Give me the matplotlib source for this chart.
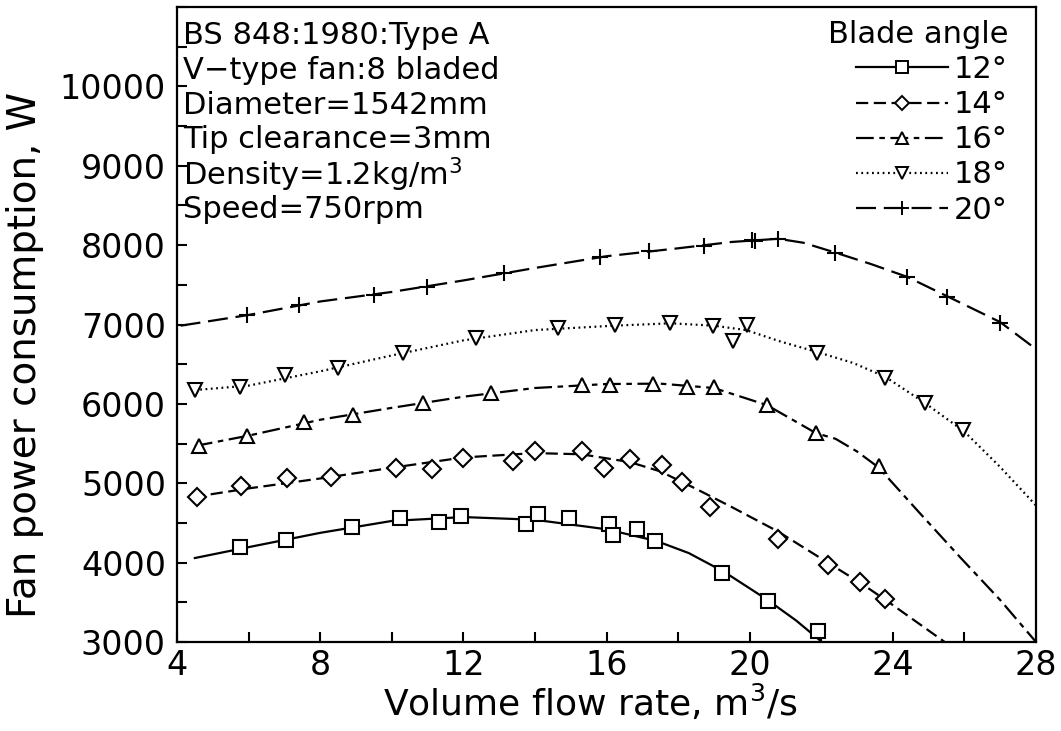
import matplotlib
matplotlib.use("Agg")
import matplotlib.pyplot as plt
from matplotlib.lines import Line2D
from matplotlib.ticker import MultipleLocator

plt.rcParams["font.family"] = ["DejaVu Sans"]
plt.rcParams["mathtext.fontset"] = "dejavusans"

# measured points, flow (m3/s) and fan power (W), one pair per blade angle
flow_12 = [5.76, 7.04, 8.89, 10.23, 11.32, 11.93, 13.75, 14.08, 14.95, 16.07,
           16.18, 16.85, 17.35, 19.22, 20.51, 21.91]
power_12 = [4196, 4285, 4448, 4562, 4511, 4587, 4486, 4612, 4562, 4486,
            4348, 4423, 4272, 3869, 3516, 3139]

flow_14 = [4.56, 5.79, 7.07, 8.30, 10.12, 11.12, 11.99, 13.39, 14.00, 15.31,
           15.93, 16.65, 17.55, 18.11, 18.89, 20.79, 22.18, 23.08, 23.78]
power_14 = [4826, 4965, 5065, 5078, 5191, 5179, 5317, 5280, 5406, 5406,
            5191, 5305, 5229, 5015, 4700, 4297, 3970, 3756, 3542]

flow_16 = [4.61, 5.96, 7.55, 8.92, 10.87, 12.77, 15.31, 16.09, 17.30, 18.25,
           19.00, 20.48, 21.85, 23.61]
power_16 = [5469, 5594, 5771, 5859, 6010, 6136, 6237, 6237, 6249, 6212,
            6212, 5985, 5632, 5217]

flow_18 = [4.50, 5.76, 7.02, 8.50, 10.31, 12.35, 14.64, 16.23, 17.77, 18.97,
           19.53, 19.92, 21.88, 23.78, 24.89, 25.96]
power_18 = [6174, 6212, 6363, 6451, 6640, 6829, 6955, 6992, 7018, 6980,
            6791, 6992, 6640, 6325, 6010, 5670]

flow_20 = [5.96, 7.41, 9.50, 10.98, 13.13, 15.82, 17.18, 18.72, 20.06, 20.15,
           20.79, 22.38, 24.39, 25.51, 26.99]
power_20 = [7118, 7244, 7370, 7471, 7647, 7849, 7924, 7987, 8063, 8050,
            8076, 7899, 7597, 7345, 7018]

# fitted characteristic curves
curve_flow_12 = [4.5, 6, 8, 10, 12, 14, 16, 17.4, 18.3, 19.3, 20.5, 21.3, 22.02]
curve_power_12 = [4058, 4195, 4375, 4525, 4574, 4540, 4420, 4272, 4120, 3880,
                  3530, 3270, 3000]

curve_flow_14 = [4.45, 6, 8, 10, 12, 14, 15.3, 16.65, 17.5, 18.5, 19.5, 20.8,
                 22.2, 23.1, 23.8, 25.45]
curve_power_14 = [4826, 4935, 5060, 5195, 5325, 5380, 5365, 5267, 5150, 4930,
                  4700, 4390, 3995, 3743, 3529, 3000]

curve_flow_16 = [4.5, 6, 8, 10, 12, 14, 16, 17.5, 19, 20.48, 21.85, 22.4, 23.0,
                 23.6, 24.75, 25.9, 27, 28]
curve_power_16 = [5469, 5600, 5800, 5950, 6090, 6200, 6250, 6255, 6200, 5985,
                  5632, 5560, 5400, 5200, 4625, 4058, 3529, 3000]

curve_flow_18 = [4.5, 6, 8, 10, 12, 14, 16.2, 17.8, 19, 19.9, 20.9, 21.9, 22.9,
                 23.8, 24.9, 26, 27, 28]
curve_power_18 = [6174, 6230, 6410, 6610, 6800, 6930, 6985, 7015, 6985, 6930,
                  6780, 6652, 6514, 6338, 6010, 5650, 5204, 4720]

curve_flow_20 = [4.1, 6, 8, 10, 12, 14, 16, 18, 19.5, 20.8, 21.5, 22.4, 23.4,
                 24.4, 25.5, 27, 28]
curve_power_20 = [6985, 7120, 7290, 7410, 7555, 7712, 7860, 7960, 8040, 8080,
                  8030, 7905, 7760, 7600, 7360, 7030, 6690]

angle_labels = ["12°", "14°", "16°", "18°", "20°"]

info_lines = [
    "BS 848:1980:Type A",
    "V−type fan:8 bladed",
    "Diameter=1542mm",
    "Tip clearance=3mm",
    "Density=1.2kg/m$^3$",
    "Speed=750rpm",
]

series = [
    (flow_12, power_12, curve_flow_12, curve_power_12, "s", 10.5, "-"),
    (flow_14, power_14, curve_flow_14, curve_power_14, "D", 9, (0, (5.5, 2.5))),
    (flow_16, power_16, curve_flow_16, curve_power_16, "^", 10, (0, (8, 2.5, 2.5, 2.5))),
    (flow_18, power_18, curve_flow_18, curve_power_18, "v", 10.5, (0, (0.8, 1.6))),
    (flow_20, power_20, curve_flow_20, curve_power_20, "+", 12, (0, (9, 3.5))),
]

fig = plt.figure(figsize=(10.61, 7.31), dpi=100)
ax = fig.add_axes([177 / 1061, 1 - 642 / 731, 859 / 1061, 635 / 731])

lw = 1.6
handles = []
for fx, fy, cx, cy, mk, ms, ls in series:
    ax.plot(cx, cy, color="black", lw=lw, linestyle=ls, clip_on=True)
    ax.plot(fx, fy, linestyle="none", marker=mk, ms=ms, mfc="white",
            mec="black", mew=1.5, zorder=3)
    handles.append(Line2D([], [], color="black", lw=lw, linestyle=ls,
                          marker=mk, ms=ms * 0.8, mfc="white", mec="black",
                          mew=1.4))

ax.set_xlim(4, 28)
ax.set_ylim(3000, 11000)
ax.xaxis.set_major_locator(MultipleLocator(4))
ax.xaxis.set_minor_locator(MultipleLocator(2))
ax.yaxis.set_minor_locator(MultipleLocator(500))
ax.set_yticks([3000, 4000, 5000, 6000, 7000, 8000, 9000, 10000])
ax.tick_params(which="both", direction="in", length=7.5, width=1.5,
               top=False, right=False, labelsize=24)
ax.tick_params(axis="x", pad=5)
ax.tick_params(axis="y", pad=8)
for sp in ax.spines.values():
    sp.set_linewidth(1.6)

for i, line in enumerate(info_lines):
    ax.text(183 / 1061, 1 - (36 + i * 34.6) / 731, line, transform=fig.transFigure,
            fontsize=22, va="center", ha="left")

leg = ax.legend(handles, angle_labels, title="Blade angle", loc="upper right",
                bbox_to_anchor=(1008 / 1061, 1 - 20 / 731),
                bbox_transform=fig.transFigure, frameon=False, fontsize=22,
                title_fontsize=22, handlelength=3.0, handletextpad=0.2,
                labelspacing=0.2, borderpad=0, borderaxespad=0,
                alignment="right", numpoints=1)

fig.text(590 / 1061, 1 - 703 / 731, "Volume flow rate, m$^3$/s", fontsize=26,
         ha="center", va="center")
fig.text(25 / 1061, 1 - 355 / 731, "Fan power consumption, W", fontsize=28,
         ha="center", va="center", rotation=90)

fig.savefig("out.png", dpi=100)
